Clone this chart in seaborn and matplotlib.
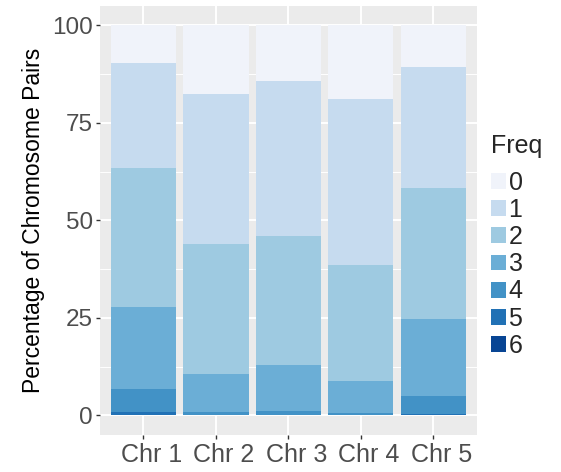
import matplotlib
matplotlib.use("Agg")
import matplotlib.pyplot as plt
import matplotlib.transforms as mtransforms
from matplotlib.patches import Patch
import numpy as np
import pandas as pd
import seaborn as sns

# Chromosome categories and the share of pairs at each frequency level
chromosomes = ["Chr 1", "Chr 2", "Chr 3", "Chr 4", "Chr 5"]
freq_levels = ["0", "1", "2", "3", "4", "5", "6"]
freq0 = [9.8, 17.5, 14.4, 19.0, 10.8]
freq1 = [26.9, 38.6, 39.7, 42.5, 31.0]
freq2 = [35.4, 33.3, 33.0, 29.7, 33.5]
freq3 = [21.0, 9.7, 11.8, 8.2, 19.8]
freq4 = [6.1, 0.9, 1.1, 0.6, 4.5]
freq5 = [0.7, 0.0, 0.0, 0.0, 0.2]
freq6 = [0.1, 0.0, 0.0, 0.0, 0.2]
y_ticks = [0, 25, 50, 75, 100]

palette = ["#F0F3FA", "#C6DBEF", "#9ECAE1", "#6BAED6", "#4292C6", "#2171B5", "#084594"]

series = [freq0, freq1, freq2, freq3, freq4, freq5, freq6]
# stack with level 6 at the bottom and level 0 on top
rows = []
for lvl, vals in zip(freq_levels, series):
    for c, v in zip(chromosomes, vals):
        rows.append({"Chromosome": c, "Freq": lvl, "Percent": v})
df = pd.DataFrame(rows)
wide = df.pivot(index="Chromosome", columns="Freq", values="Percent").loc[chromosomes]
# cumulative from the bottom (level 6) upward
cum = wide[freq_levels[::-1]].cumsum(axis=1)

sns.set_theme(style="darkgrid")
plt.rcParams["font.family"] = ["Liberation Sans", "DejaVu Sans"]

fig = plt.figure(figsize=(5.61, 4.72), dpi=100)
ax = fig.add_axes([100 / 561, 1 - 435 / 472, 376.7 / 561, (435 - 5.7) / 472])
ax.set_facecolor("#EBEBEB")

# draw tallest cumulative first so lower levels sit on top of it
for lvl, color in zip(freq_levels, palette):
    d = pd.DataFrame({"Chromosome": chromosomes, "Top": cum[lvl].values})
    sns.barplot(data=d, x="Chromosome", y="Top", color=color, width=0.9,
                saturation=1, linewidth=0, ax=ax, zorder=3)

ax.set_xlim(-0.6, 4.6)
ax.set_ylim(-5, 105)
ax.set_yticks(y_ticks)
ax.set_yticks([12.5, 37.5, 62.5, 87.5], minor=True)
ax.grid(which="major", color="white", linewidth=1.4, zorder=0)
ax.grid(which="minor", axis="y", color="white", linewidth=0.7, zorder=0)
ax.set_axisbelow(True)
for s in ax.spines.values():
    s.set_visible(False)

ax.tick_params(axis="both", which="major", length=3, width=1, color="#333333",
               labelsize=17.5, labelcolor="#4D4D4D", pad=2, bottom=True, left=True)
ax.tick_params(axis="x", which="major", labelsize=18, pad=3)
ax.tick_params(axis="both", which="minor", length=0)
ax.set_xlabel("")
ax.set_ylabel("Percentage of Chromosome Pairs", fontsize=16.5, color="black", labelpad=5)

offset = mtransforms.ScaledTranslation(8 / 100, 0, fig.dpi_scale_trans)
for lbl in ax.get_xticklabels():
    lbl.set_transform(lbl.get_transform() + offset)

handles = [Patch(facecolor=c, edgecolor="none", label=l) for l, c in zip(freq_levels, palette)]
leg = fig.legend(handles=handles, title="Freq", loc="upper left",
                 bbox_to_anchor=(491 / 561, 1 - 134 / 472), frameon=False,
                 fontsize=18, title_fontsize=18, handlelength=0.6, handleheight=0.6,
                 handletextpad=0.1, labelspacing=0.13, borderaxespad=0, borderpad=0)
leg._legend_box.align = "left"
leg._legend_box.sep = 9

fig.savefig("out.png", dpi=100)
